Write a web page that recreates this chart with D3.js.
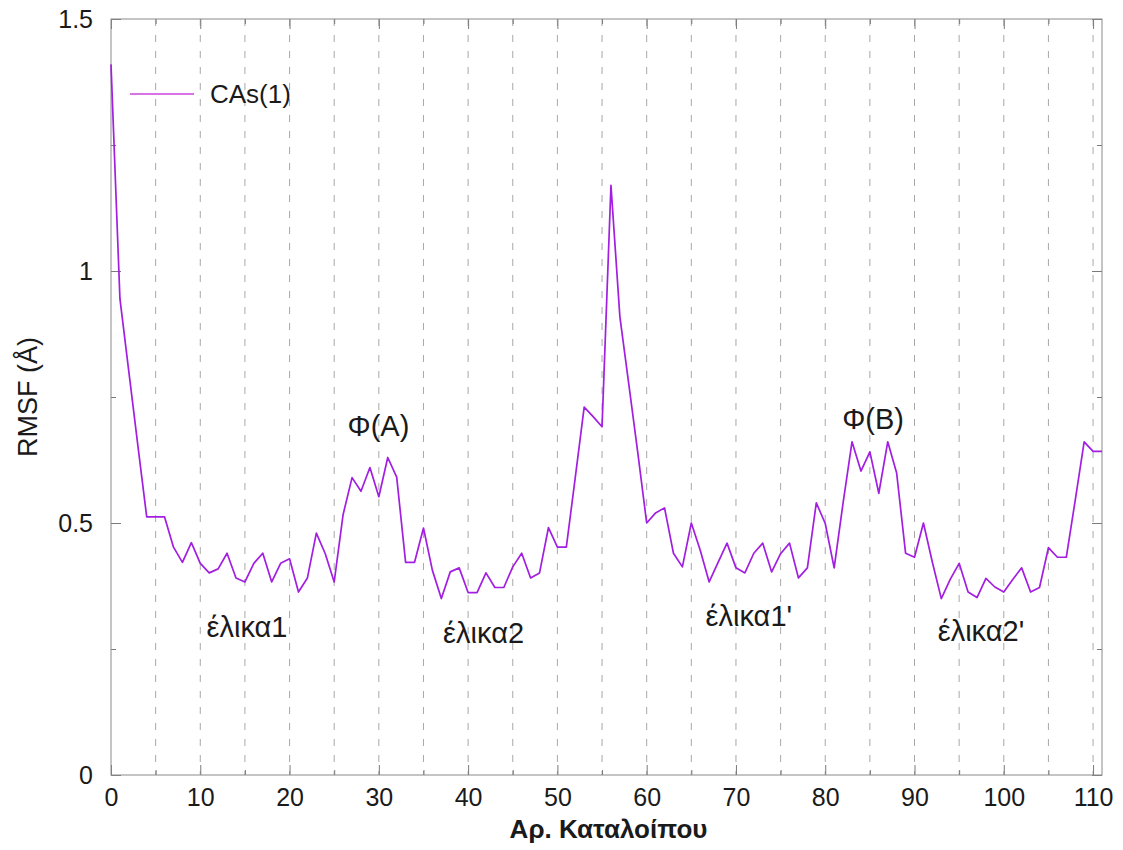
<!DOCTYPE html>
<html>
<head>
<meta charset="utf-8">
<script src="https://cdn.jsdelivr.net/npm/d3@7"></script>
<style>
  body { margin: 0; background: #fff; }
  text { font-family: "Liberation Sans", Arial, sans-serif; fill: #1a1a1a; }
</style>
</head>
<body>
<svg width="1123" height="850"></svg>
<script>
// RMSF per residue, residues 0..111
const rmsf = [
  1.41, 0.945, 0.80, 0.655, 0.512, 0.512, 0.512, 0.452, 0.422, 0.461,
  0.420, 0.401, 0.409, 0.440, 0.391, 0.383, 0.420, 0.440, 0.383, 0.420,
  0.429, 0.363, 0.391, 0.480, 0.439, 0.383, 0.517, 0.590, 0.563, 0.610,
  0.552, 0.630, 0.591, 0.422, 0.422, 0.490, 0.406, 0.350, 0.403, 0.411,
  0.362, 0.362, 0.401, 0.372, 0.372, 0.413, 0.440, 0.391, 0.401, 0.491,
  0.452, 0.452, 0.590, 0.730, 0.711, 0.691, 1.170, 0.909, 0.775, 0.640,
  0.500, 0.520, 0.530, 0.440, 0.413, 0.500, 0.446, 0.383, 0.422, 0.460,
  0.411, 0.401, 0.440, 0.460, 0.403, 0.439, 0.460, 0.391, 0.411, 0.540,
  0.499, 0.411, 0.540, 0.661, 0.603, 0.641, 0.559, 0.661, 0.599, 0.440,
  0.432, 0.500, 0.422, 0.350, 0.388, 0.420, 0.363, 0.352, 0.390, 0.373,
  0.363, 0.388, 0.411, 0.363, 0.372, 0.451, 0.432, 0.432, 0.545, 0.661,
  0.642, 0.642
];
const residues = rmsf.map((d, i) => i);

const xTicks = [0, 10, 20, 30, 40, 50, 60, 70, 80, 90, 100, 110];
const xMinor = [5, 15, 25, 35, 45, 55, 65, 75, 85, 95, 105];
const xGrid = xTicks.concat(xMinor).filter(d => d > 0);
const yTicks = [0, 0.5, 1, 1.5];
const yMinor = [0.25, 0.75, 1.25];

const seriesName = 'CAs(1)';
const xLabel = 'Αρ. Καταλοίπου';
const yLabel = 'RMSF (Å)';

// labels placed in data units
const notes = [
  {text: 'Φ(A)', x: 26.5, y: 0.672},
  {text: 'έλικα1', x: 10.7, y: 0.273},
  {text: 'έλικα2', x: 37.2, y: 0.261},
  {text: 'Φ(B)', x: 81.9, y: 0.686},
  {text: 'έλικα1\'', x: 66.6, y: 0.295},
  {text: 'έλικα2\'', x: 92.6, y: 0.265}
];

const margin = {top: 19, right: 21, bottom: 75, left: 111};
const width = 1123 - margin.left - margin.right;
const height = 850 - margin.top - margin.bottom;
const lineColor = '#a21ee0';
const fs = 25;

const svg = d3.select('svg');
const g = svg.append('g').attr('transform', `translate(${margin.left},${margin.top})`);

const x = d3.scaleLinear().domain([0, 111]).range([0, width]);
const y = d3.scaleLinear().domain([0, 1.5]).range([height, 0]);

// dashed vertical grid
g.selectAll('.grid')
  .data(xGrid)
  .enter()
  .append('line')
  .attr('x1', d => x(d)).attr('x2', d => x(d))
  .attr('y1', 0).attr('y2', height)
  .attr('stroke', '#a8a8a8')
  .attr('stroke-width', 1)
  .attr('stroke-dasharray', '7,9');

// axes (ticks point inwards, gnuplot style)
g.append('g')
  .attr('transform', `translate(0,${height})`)
  .call(d3.axisBottom(x).tickValues(xTicks).tickSizeInner(-10).tickSizeOuter(0).tickPadding(13));
g.append('g')
  .call(d3.axisLeft(y).tickValues(yTicks).tickFormat(d3.format('')).tickSizeInner(-10).tickSizeOuter(0).tickPadding(18));
g.append('g')
  .attr('transform', `translate(${width},0)`)
  .call(d3.axisRight(y).tickValues(yTicks).tickFormat('').tickSizeInner(-10).tickSizeOuter(0));
g.append('g')
  .call(d3.axisTop(x).tickValues(xTicks).tickFormat('').tickSizeInner(-10).tickSizeOuter(0));
// minor ticks
g.append('g').attr('transform', `translate(0,${height})`)
  .call(d3.axisBottom(x).tickValues(xMinor).tickFormat('').tickSizeInner(-5).tickSizeOuter(0));
g.append('g')
  .call(d3.axisTop(x).tickValues(xMinor).tickFormat('').tickSizeInner(-5).tickSizeOuter(0));
g.append('g')
  .call(d3.axisLeft(y).tickValues(yMinor).tickFormat('').tickSizeInner(-5).tickSizeOuter(0));
g.append('g').attr('transform', `translate(${width},0)`)
  .call(d3.axisRight(y).tickValues(yMinor).tickFormat('').tickSizeInner(-5).tickSizeOuter(0));

g.selectAll('.domain').remove();
g.selectAll('.tick line').attr('stroke', '#7a7a7a');
g.selectAll('.tick text')
  .attr('font-size', fs)
  .attr('font-family', '"Liberation Sans", Arial, sans-serif')
  .attr('fill', '#1a1a1a');

// border box
g.append('rect')
  .attr('width', width).attr('height', height)
  .attr('fill', 'none')
  .attr('stroke', '#8a8a8a')
  .attr('stroke-width', 1);

// data line
const line = d3.line()
  .x((d, i) => x(residues[i]))
  .y(d => y(d));

g.append('path')
  .datum(rmsf)
  .attr('fill', 'none')
  .attr('stroke', lineColor)
  .attr('stroke-width', 1.7)
  .attr('stroke-linejoin', 'round')
  .attr('d', line);

// legend
const legend = g.append('g').attr('transform', 'translate(19,75)');
legend.append('line')
  .attr('x1', 0).attr('x2', 64)
  .attr('stroke', '#cc44dd')
  .attr('stroke-width', 1.5);
legend.append('text')
  .attr('x', 80).attr('y', 9)
  .attr('font-size', 26)
  .text(seriesName);

// annotations
g.selectAll('.note')
  .data(notes)
  .enter()
  .append('text')
  .attr('x', d => x(d.x))
  .attr('y', d => y(d.y))
  .attr('font-size', 29)
  .text(d => d.text);

// axis titles
svg.append('text')
  .attr('x', margin.left + width / 2 + 2)
  .attr('y', 838)
  .attr('text-anchor', 'middle')
  .attr('font-size', 26)
  .attr('font-weight', 'bold')
  .text(xLabel);

svg.append('text')
  .attr('transform', `translate(37,397) rotate(-90)`)
  .attr('text-anchor', 'middle')
  .attr('font-size', 27)
  .text(yLabel);
</script>
</body>
</html>
